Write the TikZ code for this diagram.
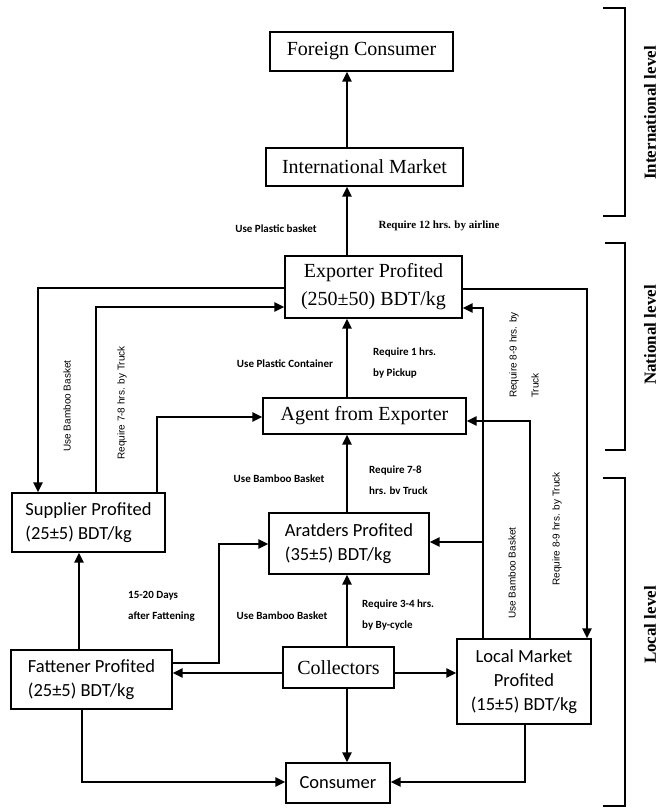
\documentclass[tikz,border=0pt]{standalone}
\usepackage{fontspec}
\setmainfont{Liberation Serif}
\newfontfamily\calfont{Carlito}
\newfontfamily\arialfont{Liberation Sans}
\usetikzlibrary{arrows.meta}
\begin{document}
\begin{tikzpicture}[x=1pt,y=-1pt,
  box/.style={draw,line width=1.3pt,inner sep=0pt,align=center},
  serifbox/.style={box,font=\fontsize{20}{28}\selectfont},
  sansbox/.style={box,font=\calfont\fontsize{18.5}{24}\selectfont},
  conn/.style={line width=2.4pt,-{Triangle[length=10pt,width=9pt]}},
  bracketline/.style={line width=2.6pt},
  lblcal/.style={font=\calfont\bfseries\fontsize{11}{21}\selectfont,inner sep=0pt},
  lbltimes/.style={font=\bfseries\fontsize{11}{21}\selectfont,inner sep=0pt},
  lblrot/.style={font=\arialfont\fontsize{10}{22}\selectfont,inner sep=0pt,rotate=90},
  levellbl/.style={font=\bfseries\fontsize{17}{20}\selectfont,inner sep=0pt,rotate=90}
]
\useasboundingbox (0,0) rectangle (660,809);

% nodes
\node[serifbox,minimum width=183pt,minimum height=39pt] (fc) at (361.5,51.5) {Foreign Consumer};
\node[serifbox,minimum width=197pt,minimum height=38pt] (im) at (364.5,167) {International Market};
\node[serifbox,minimum width=177pt,minimum height=62pt] (exp) at (373.5,287) {Exporter Profited\\(250±50) BDT/kg};
\node[serifbox,minimum width=203pt,minimum height=36pt] (agent) at (364.5,416) {Agent from Exporter};
\node[sansbox,align=left,minimum width=153pt,minimum height=59pt] (sup) at (88.5,522.5) {Supplier Profited\\(25±5) BDT/kg};
\node[sansbox,align=left,minimum width=160pt,minimum height=61pt] (arat) at (349,543.5) {Aratders Profited\\(35±5) BDT/kg};
\node[sansbox,align=left,minimum width=161pt,minimum height=59pt] (fat) at (91.5,679.5) {Fattener Profited\\(25±5) BDT/kg};
\node[serifbox,minimum width=111pt,minimum height=41pt] (col) at (338.5,667.5) {Collectors};
\node[sansbox,minimum width=134pt,minimum height=85pt] (lm) at (524,681.5) {Local Market\\Profited\\(15±5) BDT/kg};
\node[sansbox,minimum width=104pt,minimum height=40pt] (con) at (338,783) {Consumer};

% coordinates
\coordinate (mx) at (347,0);
\coordinate (p1) at (38,288);
\coordinate (p2) at (96,307);
\coordinate (p3) at (157,417);
\coordinate (p4) at (587,289);
\coordinate (p5) at (483,308);
\coordinate (p6) at (530,421);
\coordinate (p7) at (483,542);
\coordinate (p8a) at (219,663);
\coordinate (p8b) at (219,544);
\coordinate (p9) at (0,673);
\coordinate (p10) at (79,0);
\coordinate (p11) at (82,782);
\coordinate (p12) at (525,782);

% main column
\draw[conn] (im.north -| mx) -- (fc.south -| mx);
\draw[conn] (exp.north -| mx) -- (im.south -| mx);
\draw[conn] (agent.north -| mx) -- (exp.south -| mx);
\draw[conn] (arat.north -| mx) -- (agent.south -| mx);
\draw[conn] (col.north -| mx) -- (arat.south -| mx);
\draw[conn] (col.south -| mx) -- (con.north -| mx);

% left side
\draw[conn] (exp.west |- p1) -- (p1) -- (sup.north -| p1);
\draw[conn] (sup.north -| p2) -- (p2) -- (exp.west |- p2);
\draw[conn] (sup.north -| p3) -- (p3) -- (agent.west |- p3);

% right side
\draw[conn] (exp.east |- p4) -- (p4) -- (lm.north -| p4);
\draw[conn] (lm.north -| p5) -- (p5) -- (exp.east |- p5);
\draw[conn] (lm.north -| p6) -- (p6) -- (agent.east |- p6);
\draw[conn] (p7) -- (arat.east |- p7);

% lower
\draw[conn] (fat.east |- p8a) -- (p8a) -- (p8b) -- (arat.west |- p8b);
\draw[conn] (col.west |- p9) -- (fat.east |- p9);
\draw[conn] (col.east |- p9) -- (lm.west |- p9);
\draw[conn] (fat.north -| p10) -- (sup.south -| p10);
\draw[conn] (fat.south -| p11) -- (p11) -- (con.west |- p11);
\draw[conn] (lm.south -| p12) -- (p12) -- (con.east |- p12);

% labels
\node[lblcal] (l1) at (276,229) {Use Plastic basket};
\node[lbltimes] (l2) at (439,226) {Require 12 hrs. by airline};
\node[lblcal] (l3) at (285,364) {Use Plastic Container};
\node[lblcal,align=left,anchor=west] (l4) at (373,362.5) {Require 1 hrs.\\by Pickup};
\node[lblcal] (l5) at (279,479) {Use Bamboo Basket};
\node[lblcal,align=left,anchor=west] (l6) at (369,480) {Require 7-8\\hrs. bv Truck};
\node[lblcal,align=left,anchor=west] (l7) at (128,606) {15-20 Days\\after Fattening};
\node[lblcal] (l8) at (282,616) {Use Bamboo Basket};
\node[lblcal,align=left,anchor=west] (l9) at (362,615) {Require 3-4 hrs.\\by By-cycle};

\node[lblrot] (r1) at (67,406) {Use Bamboo Basket};
\node[lblrot] (r2) at (122,403) {Require 7-8 hrs. by Truck};
\node[lblrot,align=left] (r3) at (524,355) {Require 8-9 hrs. by\\Truck};
\node[lblrot] (r4) at (512,573) {Use Bamboo Basket};
\node[lblrot] (r5) at (557,529) {Require 8-9 hrs. by Truck};

% level brackets
\draw[bracketline] (603,8) -- (625,8) -- (625,216) -- (603,216);
\draw[bracketline] (605,243) -- (625,243) -- (625,450) -- (605,450);
\draw[bracketline] (603,478) -- (625,478) -- (625,806) -- (603,806);
\node[levellbl] (lv1) at (650,113) {International level};
\node[levellbl] (lv2) at (650,335) {National level};
\node[levellbl] (lv3) at (650,625) {Local level};
\end{tikzpicture}
\end{document}
